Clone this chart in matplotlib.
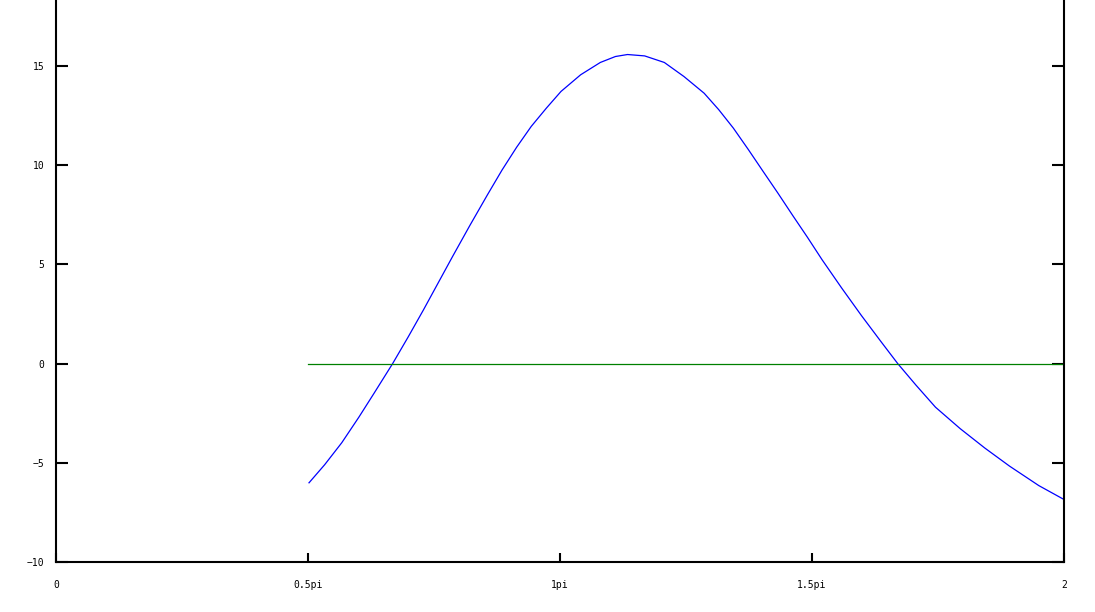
import numpy as np
import matplotlib
matplotlib.use("Agg")
import matplotlib.pyplot as plt

# curve values (x in units of pi)
x_vals = [0.502, 0.533, 0.567, 0.601, 0.631, 0.668, 0.699, 0.729, 0.758, 0.787,
          0.821, 0.856, 0.885, 0.914, 0.943, 0.973, 1.002, 1.041, 1.080, 1.110,
          1.134, 1.168, 1.207, 1.246, 1.286, 1.315, 1.344, 1.374, 1.403, 1.432,
          1.462, 1.491, 1.520, 1.559, 1.598, 1.637, 1.670, 1.706, 1.745, 1.794,
          1.843, 1.892, 1.950, 2.000]
y_vals = [-6.01, -5.10, -3.99, -2.70, -1.50, 0.00, 1.35, 2.70, 4.05, 5.40,
          6.95, 8.50, 9.75, 10.90, 11.95, 12.87, 13.71, 14.55, 15.17, 15.47,
          15.57, 15.50, 15.17, 14.46, 13.62, 12.79, 11.86, 10.77, 9.68, 8.60,
          7.45, 6.36, 5.23, 3.80, 2.42, 1.10, 0.00, -1.08, -2.20, -3.28,
          -4.26, -5.17, -6.15, -6.85]

# horizontal zero line
zero_x = [0.5, 2.0]
zero_y = [0.0, 0.0]

x_ticks = [0, 0.5, 1, 1.5, 2]
x_labels = ["0", "0.5pi", "1pi", "1.5pi", "2"]
y_ticks = [-10, -5, 0, 5, 10, 15]

fig = plt.figure(figsize=(10.95, 6.12), dpi=100)
# axes top runs past the top edge of the image, like the reference
ax = fig.add_axes([56 / 1095, 50 / 612, 1008 / 1095, (562 + 33.4) / 612])

ax.plot(x_vals, y_vals, color="#0000ff", linewidth=0.9)
ax.plot(zero_x, zero_y, color="#008000", linewidth=0.9)

ax.set_xlim(0, 2)
ax.set_ylim(-10, 20)
ax.set_xticks(x_ticks)
ax.set_xticklabels(x_labels)
ax.set_yticks(y_ticks)

for s in ["left", "right", "bottom"]:
    ax.spines[s].set_linewidth(1.5)
ax.spines["top"].set_visible(False)

ax.tick_params(axis="y", direction="in", length=8.6, width=1.5, pad=8.5,
               right=True, labelsize=7)
ax.tick_params(axis="x", direction="in", length=6.5, width=1.5, pad=13,
               labelsize=7)
for lab in ax.get_xticklabels() + ax.get_yticklabels():
    lab.set_family("DejaVu Sans Mono")

fig.savefig("out.png", dpi=100)
